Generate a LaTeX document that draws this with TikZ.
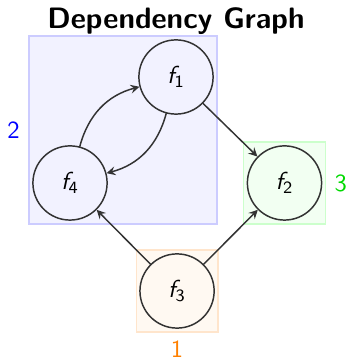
\documentclass[tikz,border=0pt]{standalone}
\usetikzlibrary{fit,arrows,backgrounds}
\newcommand{\fn}[1]{$\textit{f}_{\mathsf{#1}}$}
\tikzset{
  func/.style={circle, draw=black!80, semithick, minimum size=1.06cm, inner sep=0pt},
  dep/.style={-stealth, black!80, semithick},
  group/.style={rectangle, inner sep=1.2pt, semithick},
}
\begin{document}
\begin{tikzpicture}[every node/.style={font=\sffamily}, line cap=round]
\useasboundingbox (0,0) rectangle (5.029,5.157);

% ---------- title ----------
\node (title) at (2.514,4.86) {\large\bfseries Dependency Graph};

% ---------- functions ----------
\node[func] (f1) at (2.514,4.057) {\fn{1}};
\node[func] (f4) at (1.0,2.543) {\fn{4}};
\node[func] (f2) at (4.064,2.543) {\fn{2}};
\node[func] (f3) at (2.529,1.0) {\fn{3}};

% ---------- groups ----------
\begin{scope}[on background layer]
  \node[group, fill=blue!5, draw=blue!20, fit=(f1)(f4),
        label={[blue]left:2}] (g2) {};
  \node[group, fill=green!5, draw=green!20, fit=(f2),
        label={[green!85!black]right:3}] (g3) {};
  \node[group, fill=orange!5, draw=orange!20, fit=(f3),
        label={[orange]below:1}] (g1) {};
\end{scope}

% ---------- dependencies ----------
\draw[dep] (f4) to[bend left=30] (f1);
\draw[dep] (f1) to[bend left=30] (f4);
\draw[dep] (f1) -- (f2);
\draw[dep] (f3) -- (f4);
\draw[dep] (f3) -- (f2);

\end{tikzpicture}
\end{document}
